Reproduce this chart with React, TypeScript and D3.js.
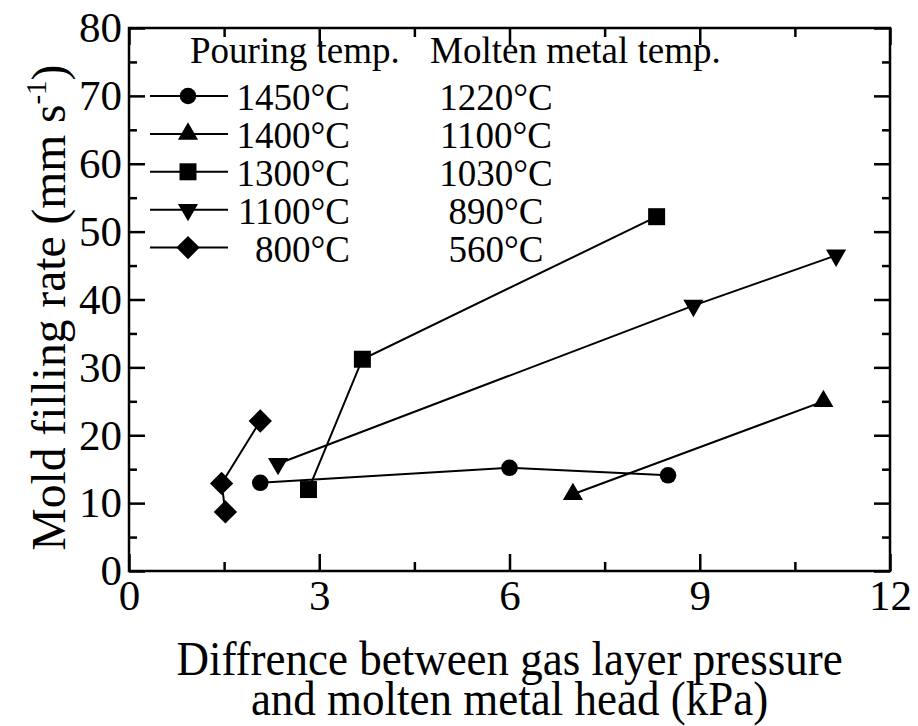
import React, { useEffect, useRef } from "react";
import * as d3 from "d3";

// data (x: kPa, y: mm/s)
const pouringTemps = ["1450°C", "1400°C", "1300°C", "1100°C", "800°C"];
const moltenTemps = ["1220°C", "1100°C", "1030°C", "890°C", "560°C"];
const markerKinds = ["circle", "triangleUp", "square", "triangleDown", "diamond"];

const circlePts = [[2.07, 13.0], [6.0, 15.2], [8.5, 14.1]];
const triUpPts = [[7.0, 11.3], [10.95, 25.0]];
const squarePts = [[2.83, 12.0], [3.68, 31.2], [8.32, 52.2]];
const triDownPts = [[2.35, 15.8], [8.9, 39.1], [11.15, 46.5]];
const diamondPts = [[1.52, 8.7], [1.46, 12.9], [2.07, 22.1]];

const xMajorTicks = [0, 3, 6, 9, 12];
const xMinorTicks = [1.5, 4.5, 7.5, 10.5];
const yMajorTicks = [0, 10, 20, 30, 40, 50, 60, 70, 80];
const yMinorTicks = [5, 15, 25, 35, 45, 55, 65, 75];

const FONT = "'Liberation Serif', 'Times New Roman', serif";

const markerPath = (kind: string) => {
  if (kind === "circle") return d3.symbol(d3.symbolCircle, 216)();
  if (kind === "square") return d3.symbol(d3.symbolSquare, 289)();
  if (kind === "diamond") return d3.symbol(d3.symbolSquare, 272)();
  return d3.symbol(d3.symbolTriangle, 175)();
};
const markerRot = (kind: string) =>
  kind === "triangleDown" ? 180 : kind === "diamond" ? 45 : 0;

export default function App() {
  const ref = useRef<SVGSVGElement>(null);

  useEffect(() => {
    const width = 918;
    const height = 726;
    const marginLeft = 129;
    const marginRight = 28;
    const marginTop = 28;
    const marginBottom = 155;

    const x = d3.scaleLinear().domain([0, 12]).range([marginLeft, width - marginRight]);
    const y = d3.scaleLinear().domain([0, 80]).range([height - marginBottom, marginTop]);

    const svg = d3.select(ref.current);
    svg.selectAll("*").remove();

    const x0 = x(0), x1 = x(12), y0 = y(0), y1 = y(80);

    // frame
    svg
      .append("rect")
      .attr("x", x0)
      .attr("y", y1)
      .attr("width", x1 - x0)
      .attr("height", y0 - y1)
      .attr("fill", "none")
      .attr("stroke", "black")
      .attr("stroke-width", 2.5);

    const styleAxis = (g: any) => {
      g.select(".domain").remove();
      g.selectAll(".tick line").attr("stroke", "black").attr("stroke-width", 2.5);
      g.selectAll("text")
        .attr("font-family", FONT)
        .attr("font-size", 43)
        .attr("fill", "black");
    };

    // bottom axis
    svg
      .append("g")
      .attr("transform", `translate(0,${y0})`)
      .call(d3.axisBottom(x).tickValues(xMajorTicks).tickSizeInner(-17).tickSizeOuter(0).tickPadding(8).tickFormat(d3.format("d")))
      .call(styleAxis);
    svg
      .append("g")
      .attr("transform", `translate(0,${y0})`)
      .call(d3.axisBottom(x).tickValues(xMinorTicks).tickSizeInner(-9).tickSizeOuter(0).tickFormat(() => ""))
      .call(styleAxis);

    // top axis
    svg
      .append("g")
      .attr("transform", `translate(0,${y1})`)
      .call(d3.axisTop(x).tickValues(xMajorTicks).tickSizeInner(-17).tickSizeOuter(0).tickFormat(() => ""))
      .call(styleAxis);
    svg
      .append("g")
      .attr("transform", `translate(0,${y1})`)
      .call(d3.axisTop(x).tickValues(xMinorTicks).tickSizeInner(-9).tickSizeOuter(0).tickFormat(() => ""))
      .call(styleAxis);

    // left axis
    svg
      .append("g")
      .attr("transform", `translate(${x0},0)`)
      .call(d3.axisLeft(y).tickValues(yMajorTicks).tickSizeInner(-16).tickSizeOuter(0).tickPadding(7).tickFormat(d3.format("d")))
      .call(styleAxis);
    svg
      .append("g")
      .attr("transform", `translate(${x0},0)`)
      .call(d3.axisLeft(y).tickValues(yMinorTicks).tickSizeInner(-8).tickSizeOuter(0).tickFormat(() => ""))
      .call(styleAxis);

    // right axis
    svg
      .append("g")
      .attr("transform", `translate(${x1},0)`)
      .call(d3.axisRight(y).tickValues(yMajorTicks).tickSizeInner(-16).tickSizeOuter(0).tickFormat(() => ""))
      .call(styleAxis);
    svg
      .append("g")
      .attr("transform", `translate(${x1},0)`)
      .call(d3.axisRight(y).tickValues(yMinorTicks).tickSizeInner(-8).tickSizeOuter(0).tickFormat(() => ""))
      .call(styleAxis);

    // series
    const series = [circlePts, triUpPts, squarePts, triDownPts, diamondPts];
    const line = d3
      .line<number[]>()
      .x((d) => x(d[0]))
      .y((d) => y(d[1]));

    series.forEach((pts, i) => {
      const kind = markerKinds[i];
      svg
        .append("path")
        .attr("d", line(pts))
        .attr("fill", "none")
        .attr("stroke", "black")
        .attr("stroke-width", 2);
      svg
        .append("g")
        .selectAll("path")
        .data(pts)
        .join("path")
        .attr("d", markerPath(kind))
        .attr("transform", (d) => `translate(${x(d[0])},${y(d[1])}) rotate(${markerRot(kind)})`)
        .attr("fill", "black");
    });

    // legend
    const leg = svg.append("g").attr("font-family", FONT).attr("font-size", 37).attr("fill", "black");
    leg.append("text").attr("x", 190).attr("y", 63).text("Pouring temp.");
    leg.append("text").attr("x", 430).attr("y", 63).text("Molten metal temp.");

    pouringTemps.forEach((t, i) => {
      const base = 110 + i * 37.9;
      const cy = base - 14;
      leg
        .append("line")
        .attr("x1", 150)
        .attr("x2", 228)
        .attr("y1", cy)
        .attr("y2", cy)
        .attr("stroke", "black")
        .attr("stroke-width", 2);
      leg
        .append("path")
        .attr("d", markerPath(markerKinds[i]))
        .attr("transform", `translate(188,${cy}) rotate(${markerRot(markerKinds[i])})`)
        .attr("fill", "black");
      leg.append("text").attr("x", 350).attr("y", base).attr("text-anchor", "end").text(t);
      leg.append("text").attr("x", 496).attr("y", base).attr("text-anchor", "middle").text(moltenTemps[i]);
    });

    // axis titles (reference glyphs are slightly taller than wide)
    const xt = svg
      .append("g")
      .attr("transform", `translate(${(x0 + x1) / 2},675) scale(1,1.07)`)
      .append("text")
      .attr("font-family", FONT)
      .attr("font-size", 45)
      .attr("fill", "black")
      .attr("text-anchor", "middle");
    xt.append("tspan").attr("x", 0).attr("y", 0).text("Diffrence between gas layer pressure");
    xt.append("tspan").attr("x", 0).attr("y", 40 / 1.07).text("and molten metal head (kPa)");

    const yt = svg
      .append("text")
      .attr("font-family", FONT)
      .attr("font-size", 47.5)
      .attr("fill", "black")
      .attr("text-anchor", "middle")
      .attr("transform", `translate(65,${(y0 + y1) / 2 + 8}) rotate(-90)`);
    yt.append("tspan").text("Mold filling rate (mm s");
    yt.append("tspan").attr("font-size", 29).attr("dy", -19).text("-1");
    yt.append("tspan").attr("dy", 19).text(")");
  }, []);

  return (
    <svg
      ref={ref}
      width={918}
      height={726}
      style={{ position: "absolute", left: 0, top: 0, background: "white" }}
    ></svg>
  );
}
